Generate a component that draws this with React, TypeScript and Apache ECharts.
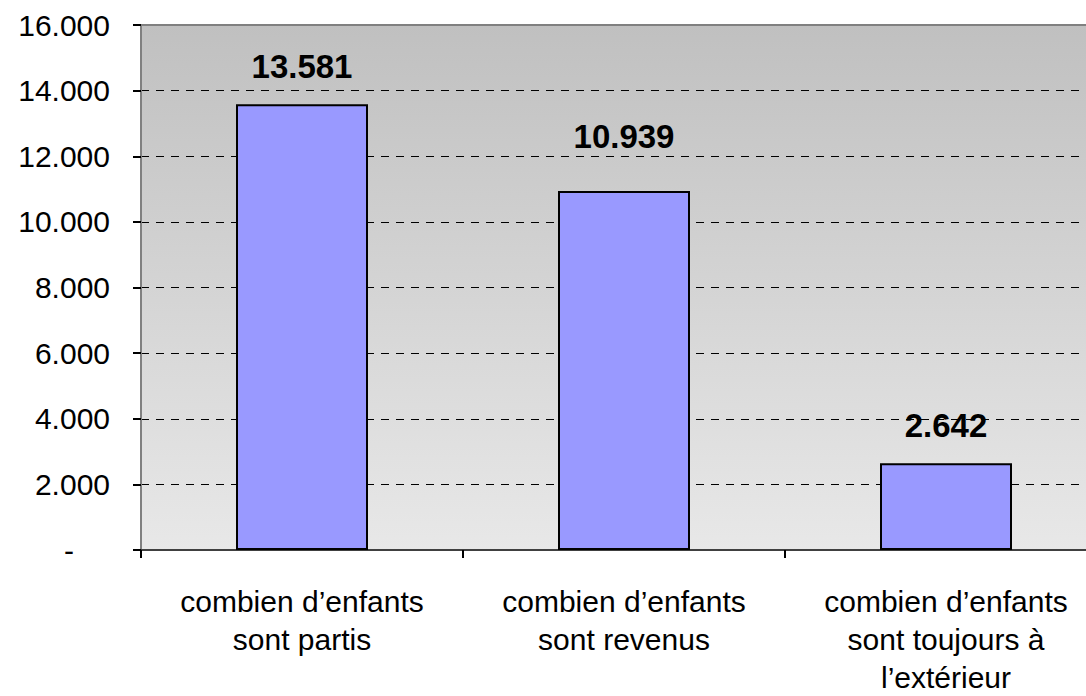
import React, { useEffect, useRef } from "react";
import * as echarts from "echarts";

const categories = [
  "combien d’enfants\nsont partis",
  "combien d’enfants\nsont revenus",
  "combien d’enfants\nsont toujours à\nl’extérieur",
];
const values = [13581, 10939, 2642];
const yMin = 0;
const yMax = 16000;
const yInterval = 2000;

const fmt = (v: number) => {
  if (v === 0) return "-";
  return String(Math.round(v)).replace(/\B(?=(\d{3})+(?!\d))/g, ".");
};

const FONT = "'Liberation Sans', Arial, Helvetica, sans-serif";

export default function App() {
  const ref = useRef<HTMLDivElement>(null);
  useEffect(() => {
    if (!ref.current) return;
    const chart = echarts.init(ref.current, undefined, { renderer: "svg" });
    const nLines = (yMax - yMin) / yInterval + 1;
    const splitColors = Array.from({ length: nLines }, (_, i) =>
      i === nLines - 1 || i === 0 ? "rgba(0,0,0,0)" : "#000000"
    );
    chart.setOption({
      animation: false,
      textStyle: { fontFamily: FONT },
      grid: {
        left: 141,
        top: 25,
        width: 966,
        height: 530,
        show: true,
        borderColor: "#808080",
        borderWidth: 2,
        backgroundColor: new echarts.graphic.LinearGradient(0, 0, 0, 1, [
          { offset: 0, color: "#c0c0c0" },
          { offset: 1, color: "#e8e8e8" },
        ]),
      },
      xAxis: {
        type: "category",
        data: categories,
        boundaryGap: true,
        axisLine: { show: true, lineStyle: { color: "#404040", width: 2 } },
        axisTick: { show: true, length: 8, lineStyle: { color: "#000", width: 2 } },
        axisLabel: {
          color: "#000",
          fontSize: 30,
          lineHeight: 38,
          margin: 32,
          fontFamily: FONT,
        },
      },
      yAxis: {
        type: "value",
        min: yMin,
        max: yMax,
        interval: yInterval,
        axisLine: { show: true, lineStyle: { color: "#808080", width: 2 } },
        axisTick: { show: true, length: 8, lineStyle: { color: "#000", width: 2 } },
        axisLabel: {
          color: "#000",
          fontSize: 30,
          margin: 31,
          fontFamily: FONT,
          formatter: (v: number) => (v === 0 ? "{z|-}" : fmt(v)),
          rich: {
            z: { fontSize: 30, color: "#000", fontFamily: FONT, padding: [0, 36, 0, 0] },
          },
        },
        splitLine: {
          show: true,
          lineStyle: { color: splitColors, width: 1, type: [8, 7] },
        },
      },
      series: [
        {
          type: "bar",
          barWidth: 132,
          data: values.map((v, i) => ({
            value: v,
            label: i === 1 ? { distance: 38 } : undefined,
          })),
          itemStyle: { color: "#9999ff", borderColor: "#000", borderWidth: 2 },
          label: {
            show: true,
            position: "top",
            distance: 21,
            color: "#000",
            fontSize: 33,
            fontWeight: "bold",
            fontFamily: FONT,
            formatter: (p: any) => fmt(p.value),
          },
        },
      ],
    });
    return () => chart.dispose();
  }, []);
  return (
    <div
      style={{
        position: "absolute",
        left: 0,
        top: 0,
        width: 1086,
        height: 696,
        overflow: "hidden",
        background: "#fff",
      }}
    >
      <div ref={ref} style={{ width: 1140, height: 696 }} />
    </div>
  );
}
